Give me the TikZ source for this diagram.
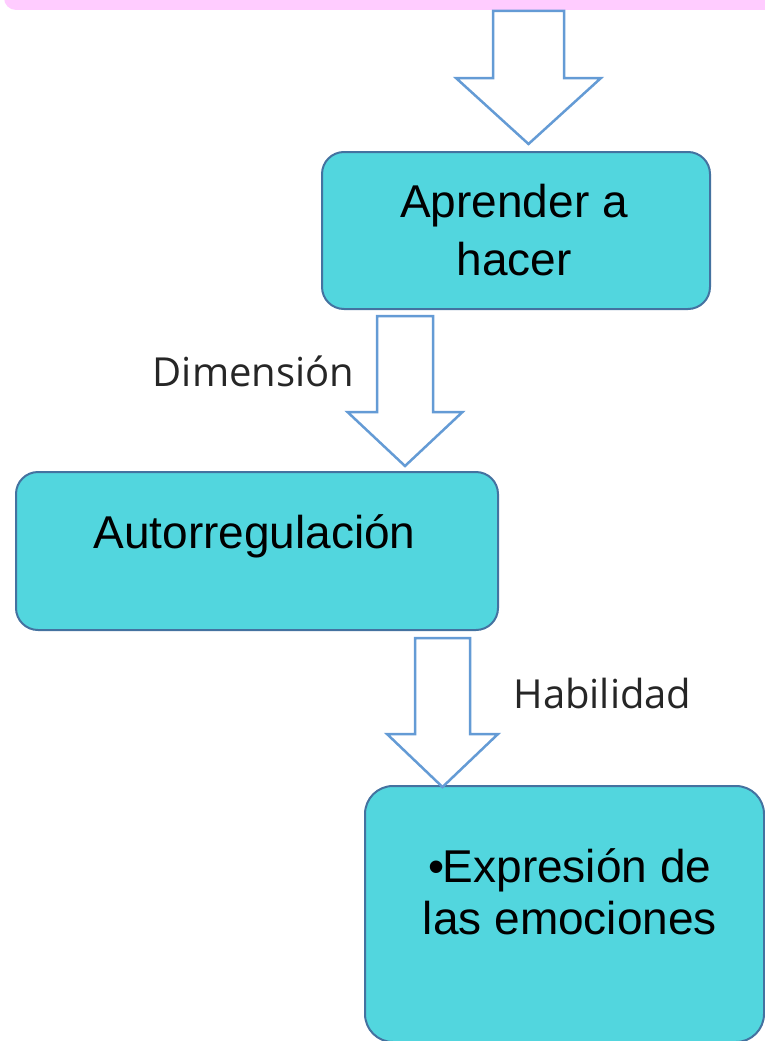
\documentclass[tikz,border=0pt]{standalone}
\usepackage{fontspec}
\setmainfont{Liberation Sans}
\newfontfamily\labelfont{Open Sans}
\usetikzlibrary{positioning}

\definecolor{barpink}{RGB}{255,204,255}
\definecolor{boxcyan}{RGB}{82,214,222}
\definecolor{boxedge}{RGB}{68,114,160}
\definecolor{arrowblue}{RGB}{100,155,213}

\tikzset{
  stagebox/.style={draw=boxedge, line width=2pt, fill=boxcyan, rounded corners=22pt, inner sep=0pt},
  stagetext/.style={font=\fontsize{46}{58}\selectfont, align=center, text=black, anchor=base, inner sep=0pt},
  edgelabel/.style={font=\labelfont\fontsize{40}{48}\selectfont, text=black!85, anchor=base, inner sep=0pt},
  hollowarrow/.style={draw=arrowblue, line width=2.5pt, fill=white, line join=miter},
}

\begin{document}
\begin{tikzpicture}[x=1pt, y=-1pt]
\useasboundingbox (0,0) rectangle (765,1041);
\clip (0,0) rectangle (765,1041);

% pink band at the top
\node[fill=barpink, rounded corners=12pt, minimum width=820pt, minimum height=60pt, inner sep=0pt] (topbar) at (414,-20) {};

% boxes
\node[stagebox, minimum width=388pt, minimum height=157pt] (hacer) at (516,230.5) {};
\node[stagebox, minimum width=482pt, minimum height=158pt] (autorreg) at (257,551) {};
\node[stagebox, minimum width=399pt, minimum height=256pt, rounded corners=28pt] (expresion) at (564.5,914) {};

% texts, anchored on the last baseline
\node[stagetext] (hacertxt) at (514,275) {Aprender a\\hacer};
\node[stagetext] (autotxt) at (254.5,548) {Autorregulación};
\node[stagetext, font=\fontsize{46}{52}\selectfont] (expresiontxt) at (570,934) {•\kern-2pt Expresión de\\las emociones};

% block arrows, tip on the box below
\foreach \dest/\dx/\dy/\sw/\hw/\hl/\len in {hacer/12.5/7/35.5/72.5/66/133, autorreg/148/5/28/57.5/54/150, expresion/-122/-2/27.5/55.5/53/149}
  \draw[hollowarrow, shift={(\dest.north)}, xshift=\dx pt, yshift=\dy pt] (0,0) -- (-\hw,-\hl) -- (-\sw,-\hl) -- (-\sw,-\len) -- (\sw,-\len) -- (\sw,-\hl) -- (\hw,-\hl) -- cycle;

\node[edgelabel] (dimlabel) at (253.5,386) {Dimensión};
\node[edgelabel] (hablabel) at (602.5,708) {Habilidad};
\end{tikzpicture}
\end{document}
